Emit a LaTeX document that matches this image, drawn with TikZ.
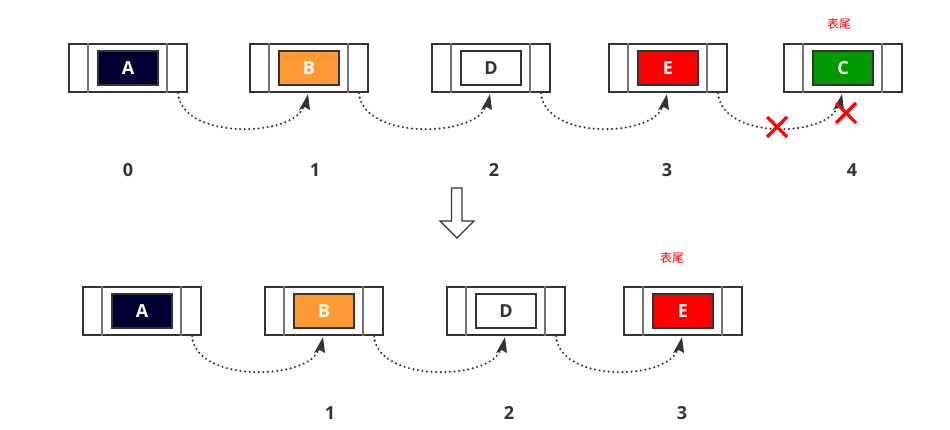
\documentclass[tikz,border=0pt]{standalone}
\usepackage{fontspec}
\setmainfont{Open Sans}
\newfontfamily\cjk{Noto Sans CJK SC}
\usetikzlibrary{arrows.meta,calc}
\definecolor{edge}{HTML}{333333}
\definecolor{navy}{HTML}{000033}
\definecolor{orng}{HTML}{FF9933}
\definecolor{redc}{HTML}{FF0000}
\definecolor{grnc}{HTML}{009900}
\tikzset{
  outerbox/.style={draw=edge, line width=2.2pt, fill=white, minimum width=118pt, minimum height=48pt, inner sep=0pt},
  innerbox/.style={draw=edge, line width=2.2pt, minimum width=60pt, minimum height=34pt, inner sep=0pt, font=\bfseries\fontsize{18}{18}\selectfont, text=white},
  divider/.style={draw=gray!90!black, line width=1.8pt},
  link/.style={draw=edge, line width=2.3pt, dash pattern=on 0pt off 4.6pt, line cap=round},
  idx/.style={font=\bfseries\fontsize{18}{18}\selectfont, text=edge},
  tail/.style={font=\cjk\fontsize{12}{12}\selectfont, text=red},
  cross/.style={draw=red, line width=3.2pt}
}
\newcommand{\listbox}[4]{%
  \node[outerbox] (#1) at #2 {};
  \draw[divider] ([xshift=-40pt]#1.north) -- ([xshift=-40pt]#1.south);
  \draw[divider] ([xshift=39pt]#1.north) -- ([xshift=39pt]#1.south);
  \node[innerbox,#4] (#1i) at (#1) {#3};
}
\newcommand{\linkarrow}[2]{%
  \draw[link] ([xshift=50pt]#1.south) .. controls ($([xshift=50pt]#1.south)+(4,48)$) and ($([xshift=-2pt]#2.south)+(-10,44)$) .. ($([xshift=-2pt]#2.south)+(-3,12)$);
  \draw[draw=none, fill=edge] ($([xshift=-2pt]#2.south)+(1,1)$) -- ($([xshift=-2pt]#2.south)+(-8,17)$) -- ($([xshift=-2pt]#2.south)+(-2,14)$) -- ($([xshift=-2pt]#2.south)+(3,17)$) -- cycle;
}
\begin{document}
\begin{tikzpicture}[x=1pt,y=-1pt]
\useasboundingbox (0,0) rectangle (950,430);
% top row
\listbox{tA}{(128,68)}{A}{fill=navy}
\listbox{tB}{(309,68)}{B}{fill=orng}
\listbox{tD}{(491,68)}{D}{fill=white,text=edge}
\listbox{tE}{(668,68)}{E}{fill=redc}
\listbox{tC}{(843,68)}{C}{fill=grnc}
\linkarrow{tA}{tB}
\linkarrow{tB}{tD}
\linkarrow{tD}{tE}
\linkarrow{tE}{tC}
\node[tail] (tailtop) at (839,24) {表尾};
\draw[cross] (767,117) -- (787,137) (787,117) -- (767,137);
\draw[cross] (836,103) -- (856,123) (856,103) -- (836,123);
\node[idx] (n0) at (128,170) {0};
\node[idx] (n1) at (315,170) {1};
\node[idx] (n2) at (494,170) {2};
\node[idx] (n3) at (667,170) {3};
\node[idx] (n4) at (852,170) {4};
% down arrow
\draw[draw=edge, line width=1.4pt, fill=white] (451.5,188) -- (462,188) -- (462,221) -- (474,221) -- (457,238) -- (440,221) -- (451.5,221) -- cycle;
% bottom row
\listbox{bA}{(142,311)}{A}{fill=navy}
\listbox{bB}{(324,311)}{B}{fill=orng}
\listbox{bD}{(506,311)}{D}{fill=white,text=edge}
\listbox{bE}{(683,311)}{E}{fill=redc}
\linkarrow{bA}{bB}
\linkarrow{bB}{bD}
\linkarrow{bD}{bE}
\node[tail] (tailbot) at (672,258) {表尾};
\node[idx] (m1) at (330,413) {1};
\node[idx] (m2) at (509,413) {2};
\node[idx] (m3) at (682,413) {3};
\end{tikzpicture}
\end{document}
